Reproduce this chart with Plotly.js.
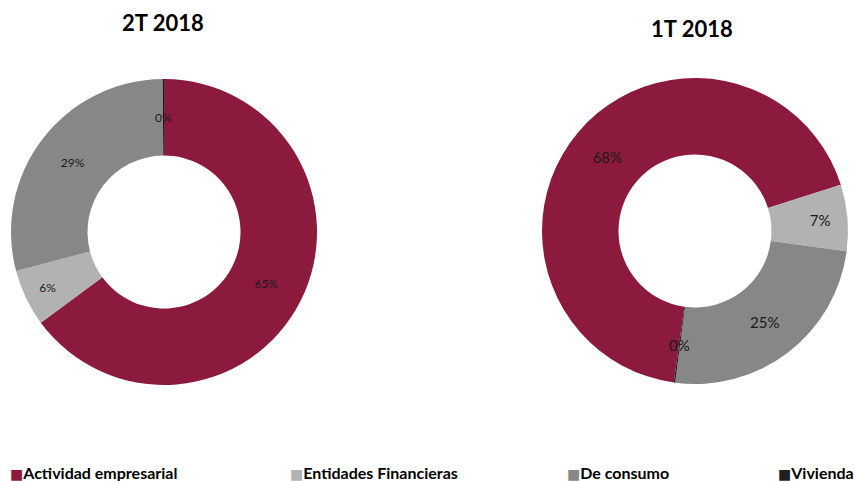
<!DOCTYPE html>
<html>
<head>
<meta charset="utf-8">
<script src="https://cdn.plot.ly/plotly-3.0.1.min.js"></script>
<style>html,body{margin:0;padding:0;background:#fff;}#chart{width:855px;height:481px;}</style>
</head>
<body>
<div id="chart"></div>
<script>
const categories = ["Actividad empresarial", "Entidades Financieras", "De consumo", "Vivienda"];
const values2T = [65, 6, 29, 0.15];
const labels2T = ["65%", "6%", "29%", "0%"];
const values1T = [68, 7, 25, 0.15];
const labels1T = ["68%", "7%", "25%", "0%"];
const titles = ["2T 2018", "1T 2018"];
const colors = ["#8B1A3C", "#B2B2B2", "#878787", "#1F1F1F"];
const legendX = [8, 288, 565, 776];

const W = 855, H = 481;
const pies = [
  { values: values2T, labels: labels2T, rotation: 0, cx: 164, cy: 232, r: 153, size: 12, title: titles[0], tx: 163, ty: 22 },
  { values: values1T, labels: labels1T, rotation: 188, cx: 695, cy: 231, r: 153, size: 15, title: titles[1], tx: 692, ty: 28 }
];
const HOLE = 0.5;
const font = 'Lato, sans-serif';

const traces = [];
const annotations = [];
pies.forEach(p => {
  const total = p.values.reduce((a, b) => a + b, 0);
  const small = p.values.map(v => v / total < 0.01);
  traces.push({
    type: 'pie', hole: HOLE, sort: false, direction: 'clockwise', rotation: p.rotation,
    labels: categories, values: p.values,
    text: p.labels.map((t, i) => small[i] ? '' : t),
    textinfo: 'text', textposition: 'inside', insidetextorientation: 'horizontal',
    marker: { colors: colors, line: { width: 0 } },
    textfont: { family: font, size: p.size, color: '#1a1a1a' },
    domain: { x: [(p.cx - p.r) / W, (p.cx + p.r) / W], y: [1 - (p.cy + p.r) / H, 1 - (p.cy - p.r) / H] },
    hoverinfo: 'label+percent', showlegend: false
  });
  // labels for very thin slices, placed at the ring middle along the slice bisector
  let cum = 0;
  p.values.forEach((v, i) => {
    const mid = p.rotation + 360 * (cum + v / 2) / total;
    cum += v;
    if (!small[i]) return;
    const a = mid * Math.PI / 180, rr = p.r * (1 + HOLE) / 2;
    const x = p.cx + rr * Math.sin(a), y = p.cy - rr * Math.cos(a);
    annotations.push({ text: p.labels[i], x: x / W, y: 1 - y / H, xref: 'paper', yref: 'paper',
      xanchor: 'center', yanchor: 'middle', showarrow: false,
      font: { family: font, size: p.size, color: '#1a1a1a' } });
  });
  annotations.push({ text: '<b>' + p.title + '</b>', x: p.tx / W, y: 1 - p.ty / H, xref: 'paper', yref: 'paper',
    xanchor: 'center', yanchor: 'middle', showarrow: false, font: { family: font, size: 22, color: '#000' } });
});

categories.forEach((c, i) => {
  annotations.push({
    text: '<span style="color:' + colors[i] + ';font-family:DejaVu Sans;font-size:14px">■</span><b>' + c + '</b>',
    x: legendX[i] / W, y: 1 - 472 / H, xref: 'paper', yref: 'paper', xanchor: 'left', yanchor: 'middle',
    showarrow: false, font: { family: font, size: 16, color: '#000' }
  });
});

const layout = {
  width: W, height: H, margin: { l: 0, r: 0, t: 0, b: 0 },
  paper_bgcolor: '#fff', plot_bgcolor: '#fff',
  annotations: annotations
};

Plotly.newPlot('chart', traces, layout, { displayModeBar: false, staticPlot: true });
</script>
</body>
</html>
